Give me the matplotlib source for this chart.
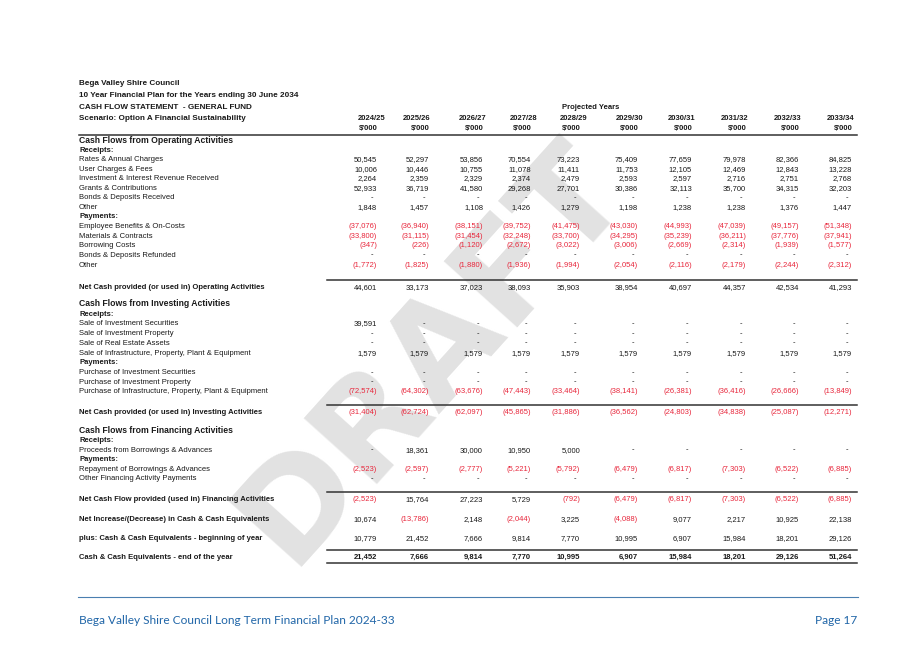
import matplotlib
matplotlib.use("Agg")
import matplotlib.pyplot as plt

# ---------------- data ----------------
years = ["2024/25", "2025/26", "2026/27", "2027/28", "2028/29",
         "2029/30", "2030/31", "2031/32", "2032/33", "2033/34"]

rates_annual = [50545, 52297, 53856, 70554, 73223, 75409, 77659, 79978, 82366, 84825]
user_fees = [10006, 10446, 10755, 11078, 11411, 11753, 12105, 12469, 12843, 13228]
invest_interest = [2264, 2359, 2329, 2374, 2479, 2593, 2597, 2716, 2751, 2768]
grants_contrib = [52933, 36719, 41580, 29268, 27701, 30386, 32113, 35700, 34315, 32203]
bonds_received = [0, 0, 0, 0, 0, 0, 0, 0, 0, 0]
other_receipts = [1848, 1457, 1108, 1426, 1279, 1198, 1238, 1238, 1376, 1447]
employee_costs = [-37076, -36940, -38151, -39752, -41475, -43030, -44993, -47039, -49157, -51348]
materials_contracts = [-33800, -31115, -31454, -32248, -33700, -34295, -35239, -36211, -37776, -37941]
borrowing_costs = [-347, -226, -1120, -2672, -3022, -3006, -2669, -2314, -1939, -1577]
bonds_refunded = [0, 0, 0, 0, 0, 0, 0, 0, 0, 0]
other_payments = [-1772, -1825, -1880, -1936, -1994, -2054, -2116, -2179, -2244, -2312]
net_operating = [44601, 33173, 37023, 38093, 35903, 38954, 40697, 44357, 42534, 41293]

sale_inv_securities = [39591, 0, 0, 0, 0, 0, 0, 0, 0, 0]
sale_inv_property = [0, 0, 0, 0, 0, 0, 0, 0, 0, 0]
sale_real_estate = [0, 0, 0, 0, 0, 0, 0, 0, 0, 0]
sale_infrastructure = [1579, 1579, 1579, 1579, 1579, 1579, 1579, 1579, 1579, 1579]
purchase_inv_securities = [0, 0, 0, 0, 0, 0, 0, 0, 0, 0]
purchase_inv_property = [0, 0, 0, 0, 0, 0, 0, 0, 0, 0]
purchase_infrastructure = [-72574, -64302, -63676, -47443, -33464, -38141, -26381, -36416, -26666, -13849]
net_investing = [-31404, -62724, -62097, -45865, -31886, -36562, -24803, -34838, -25087, -12271]

proceeds_borrowings = [0, 18361, 30000, 10950, 5000, 0, 0, 0, 0, 0]
repayment_borrowings = [-2523, -2597, -2777, -5221, -5792, -6479, -6817, -7303, -6522, -6885]
other_financing = [0, 0, 0, 0, 0, 0, 0, 0, 0, 0]
net_financing = [-2523, 15764, 27223, 5729, -792, -6479, -6817, -7303, -6522, -6885]

net_increase = [10674, -13786, 2148, -2044, 3225, -4088, 9077, 2217, 10925, 22138]
cash_begin = [10779, 21452, 7666, 9814, 7770, 10995, 6907, 15984, 18201, 29126]
cash_end = [21452, 7666, 9814, 7770, 10995, 6907, 15984, 18201, 29126, 51264]

# rows: (label, values, style, y)
rows = [
    ("Cash Flows from Operating Activities", None, "section", 140),
    ("Receipts:", None, "sub", 149),
    ("Rates & Annual Charges", rates_annual, "item", 158.5),
    ("User Charges & Fees", user_fees, "item", 168),
    ("Investment & Interest Revenue Received", invest_interest, "item", 177.5),
    ("Grants & Contributions", grants_contrib, "item", 187),
    ("Bonds & Deposits Received", bonds_received, "item", 196.5),
    ("Other", other_receipts, "item", 206),
    ("Payments:", None, "sub", 215.5),
    ("Employee Benefits & On-Costs", employee_costs, "item", 225.5),
    ("Materials & Contracts", materials_contracts, "item", 235),
    ("Borrowing Costs", borrowing_costs, "item", 244.5),
    ("Bonds & Deposits Refunded", bonds_refunded, "item", 254),
    ("Other", other_payments, "item", 264),
    ("Net Cash provided (or used in) Operating Activities", net_operating, "total", 286),
    ("Cash Flows from Investing Activities", None, "section", 303.5),
    ("Receipts:", None, "sub", 313),
    ("Sale of Investment Securities", sale_inv_securities, "item", 322.5),
    ("Sale of Investment Property", sale_inv_property, "item", 332.5),
    ("Sale of Real Estate Assets", sale_real_estate, "item", 342),
    ("Sale of Infrastructure, Property, Plant & Equipment", sale_infrastructure, "item", 352),
    ("Payments:", None, "sub", 361.5),
    ("Purchase of Investment Securities", purchase_inv_securities, "item", 371.5),
    ("Purchase of Investment Property", purchase_inv_property, "item", 381),
    ("Purchase of Infrastructure, Property, Plant & Equipment", purchase_infrastructure, "item", 390.5),
    ("Net Cash provided (or used in) Investing Activities", net_investing, "total", 411.5),
    ("Cash Flows from Financing Activities", None, "section", 430.5),
    ("Receipts:", None, "sub", 439.5),
    ("Proceeds from Borrowings & Advances", proceeds_borrowings, "item", 449),
    ("Payments:", None, "sub", 458.5),
    ("Repayment of Borrowings & Advances", repayment_borrowings, "item", 468),
    ("Other Financing Activity Payments", other_financing, "item", 477.5),
    ("Net Cash Flow provided (used in) Financing Activities", net_financing, "total", 498.5),
    ("Net Increase/(Decrease) in Cash & Cash Equivalents", net_increase, "total", 518.5),
    ("plus: Cash & Cash Equivalents - beginning of year", cash_begin, "total", 537.5),
    ("Cash & Cash Equivalents - end of the year", cash_end, "grand", 556.5),
]

# ---------------- layout ----------------
W, H = 917, 649
fig = plt.figure(figsize=(W / 100, H / 100), dpi=100)
ax = fig.add_axes([0, 0, 1, 1])
ax.set_xlim(0, W)
ax.set_ylim(H, 0)
ax.axis("off")

FONT = "Liberation Sans"
FS = 5.5
BLACK = "#1a1a1a"
RED = "#e8273c"
LEFT = 79
BASE = 2.6  # offset from row centre to text baseline (px)
val_right = [377, 429, 483, 531, 580, 638, 692, 746, 799, 852]
hdr_right = [385, 430, 486, 537, 587, 643, 695, 748, 801, 854]

# watermark
ax.text(432, 352, "DRAFT", fontsize=98, fontweight="bold", family="DejaVu Sans",
        color="#e2e2e2", rotation=48, ha="center", va="center", zorder=0)


def put(x, y, s, **kw):
    ax.text(x, y + BASE, s, family=FONT, va="baseline", zorder=3, **kw)


# titles
titles = ["Bega Valley Shire Council",
          "10 Year Financial Plan for the Years ending 30 June 2034",
          "CASH FLOW STATEMENT  - GENERAL FUND",
          "Scenario: Option A Financial Sustainability"]
for t, y in zip(titles, [82.5, 94, 106, 117.5]):
    put(LEFT, y, t, fontsize=5.9, fontweight="bold", color=BLACK, ha="left")

put(591, 106.5, "Projected Years", fontsize=FS, fontweight="bold", color=BLACK, ha="center")
for yr, xr, xv in zip(years, hdr_right, val_right):
    put(xr, 117.5, yr, fontsize=FS, fontweight="bold", color=BLACK, ha="right")
    put(xv + 1, 127.5, "$'000", fontsize=FS, fontweight="bold", color=BLACK, ha="right")
ax.plot([LEFT, 857], [134.5, 134.5], color="#333333", lw=1.1, zorder=3)


def fmt(v):
    if v == 0:
        return "-"
    if v < 0:
        return "({:,})".format(-v)
    return "{:,}".format(v)


for label, vals, style, y in rows:
    bold = style in ("section", "sub", "total", "grand")
    fs = 6.2 if style == "section" else FS
    put(LEFT, y, label, fontsize=fs, fontweight="bold" if bold else "normal",
        color=BLACK, ha="left")
    if vals is None:
        continue
    if style in ("total", "grand") and label.startswith(("Net Cash", "Cash & Cash")):
        ax.plot([327, 857], [y - 6.5, y - 6.5], color="#333333", lw=1.1, zorder=3)
    for v, xr in zip(vals, val_right):
        s = fmt(v)
        col = RED if v < 0 else BLACK
        xx = xr - 4 if v == 0 else xr
        put(xx, y, s, fontsize=FS, fontweight="bold" if style == "grand" else "normal",
            color=col, ha="right")
    if style == "grand":
        ax.plot([327, 857], [y + 6, y + 6], color="#333333", lw=1.1, zorder=3)

# footer
ax.plot([78, 858], [597, 597], color="#4a7fb0", lw=0.8, zorder=3)
ax.text(LEFT, 620, "Bega Valley Shire Council Long Term Financial Plan 2024-33",
        fontsize=8.6, family="Lato", color="#2166a8", va="center", ha="left", zorder=3)
ax.text(857, 620, "Page 17", fontsize=8.6, family="Lato", color="#2166a8",
        va="center", ha="right", zorder=3)

fig.savefig("out.png", dpi=100, facecolor="white")
